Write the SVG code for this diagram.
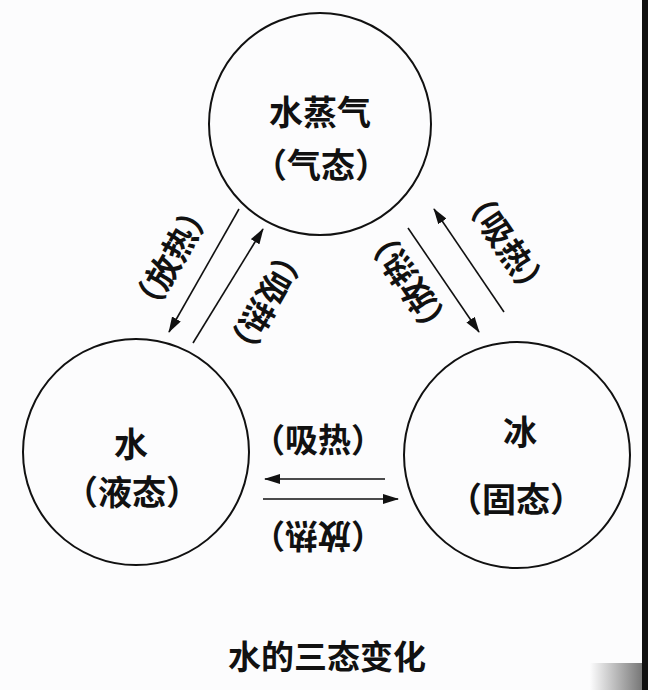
<svg xmlns="http://www.w3.org/2000/svg" width="648" height="690" viewBox="0 0 648 690">
<style>
.c{fill:none;stroke:#111;stroke-width:2}
.t{font-family:"Noto Sans CJK SC","Noto Sans",sans-serif;font-weight:bold;fill:#111;text-anchor:middle;dominant-baseline:central}
.n{font-size:34px}
.l{font-size:33px}
.a{stroke:#111;stroke-width:1.6;fill:none;marker-end:url(#ah)}
</style>
<defs>
<marker id="ah" viewBox="0 0 16 10" refX="15" refY="5" markerWidth="16" markerHeight="10" markerUnits="userSpaceOnUse" orient="auto">
<path d="M0,0 L16,5 L0,10 Z" fill="#111"/>
</marker>
<linearGradient id="g" x1="0" x2="1" y1="0" y2="0">
<stop offset="0" stop-color="#fcfcfd"/>
<stop offset="1" stop-color="#777"/>
</linearGradient>
</defs>
<rect width="648" height="690" fill="#fcfcfd"/>
<rect x="590" y="663" width="52" height="27" fill="url(#g)"/>
<rect x="642" y="0" width="6" height="690" fill="#111"/>
<g id="vapor">
<circle class="c" cx="320" cy="124" r="111"/>
<text class="t n" x="320" y="110">水蒸气</text>
<text class="t n" x="321" y="163">（气态）</text>
</g>
<g id="water">
<circle class="c" cx="136" cy="452" r="113"/>
<text class="t n" x="131" y="442">水</text>
<text class="t n" x="132" y="490">（液态）</text>
</g>
<g id="ice">
<circle class="c" cx="517" cy="455" r="113"/>
<text class="t n" x="520" y="430">冰</text>
<text class="t n" x="516" y="497">（固态）</text>
</g>
<g id="connectors">
<line class="a" x1="239" y1="209" x2="169" y2="332"/>
<line class="a" x1="193" y1="343" x2="263" y2="229"/>
<line class="a" x1="504" y1="312" x2="434" y2="209"/>
<line class="a" x1="408" y1="228" x2="479" y2="332"/>
<line class="a" x1="385" y1="479" x2="265" y2="479"/>
<line class="a" x1="263" y1="499" x2="398" y2="499"/>
</g>
<g id="labels">
<text class="t l" transform="translate(170,257) rotate(-60)">（放热）</text>
<text class="t l" transform="translate(267,303) rotate(120)">（吸热）</text>
<text class="t l" transform="translate(507,242) rotate(56)">（吸热）</text>
<text class="t l" transform="translate(407,283) rotate(-124)">（放热）</text>
<text class="t l" transform="translate(318,438)">（吸热）</text>
<text class="t l" transform="translate(318,538) rotate(180)">（放热）</text>
</g>
<text class="t" x="327" y="655" style="font-size:33px">水的三态变化</text>
</svg>
